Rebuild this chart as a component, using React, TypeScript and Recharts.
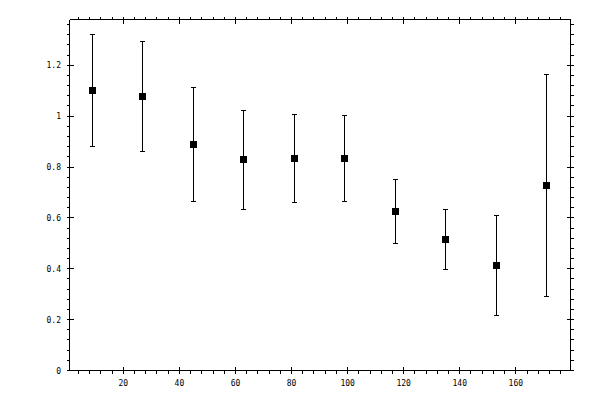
import React from 'react';
import { ScatterChart, Scatter, XAxis, YAxis, ErrorBar } from 'recharts';

const xValues = [9, 27, 45, 63, 81, 99, 117, 135, 153, 171];
const yValues = [1.101, 1.077, 0.888, 0.829, 0.833, 0.833, 0.625, 0.515, 0.412, 0.727];
const yErrors = [0.22, 0.215, 0.225, 0.195, 0.172, 0.17, 0.124, 0.118, 0.197, 0.438];

const xMajorTicks = [20, 40, 60, 80, 100, 120, 140, 160];
const yMajorTicks = [0, 0.2, 0.4, 0.6, 0.8, 1, 1.2];
const yTickLabels = ['0', '0.2', '0.4', '0.6', '0.8', '1', '1.2'];
const xMinorStep = 4;
const yMinorStep = 0.04;
const xDomain: [number, number] = [0.8, 179.5];
const yDomain: [number, number] = [0, 1.38];

const points = xValues.map((x, i) => ({ x, y: yValues[i], err: yErrors[i] }));

const xTicks: number[] = [];
for (let k = 1; k * xMinorStep < xDomain[1]; k++) xTicks.push(k * xMinorStep);
const yTicks: number[] = [];
for (let k = 0; k * yMinorStep < yDomain[1]; k++) yTicks.push(Math.round(k * yMinorStep * 1000) / 1000);

const isMajorX = (v: number) => xMajorTicks.includes(v);
const majorYIndex = (v: number) => yMajorTicks.findIndex((m) => Math.abs(m - v) < 1e-6);

const FONT = '"DejaVu Sans Mono", monospace';
const IN = 4;
const OUT = 3;

const Tick = (props: any) => {
  const { x, y, payload, side } = props;
  const v = payload.value;
  const crisp = { shapeRendering: 'crispEdges' as const, stroke: '#000', strokeWidth: 1 };
  if (side === 'bottom' || side === 'top') {
    const major = isMajorX(v);
    const dir = side === 'bottom' ? 1 : -1;
    const y1 = major ? y - dir * IN : y;
    const y2 = y + dir * OUT;
    return (
      <g>
        <line x1={x} x2={x} y1={y1} y2={y2} {...crisp} />
        {major && side === 'bottom' ? (
          <text x={x} y={y + 15} textAnchor="middle" fontFamily={FONT} fontSize={8} fill="#000">
            {String(v)}
          </text>
        ) : null}
      </g>
    );
  }
  const idx = majorYIndex(v);
  const major = idx >= 0;
  const dir = side === 'left' ? -1 : 1;
  const x1 = major ? x - dir * IN : x;
  const x2 = x + dir * OUT;
  return (
    <g>
      <line x1={x1} x2={x2} y1={y} y2={y} {...crisp} />
      {major && side === 'left' ? (
        <text x={x - 8.5} y={y + 3} textAnchor="end" fontFamily={FONT} fontSize={8} fill="#000">
          {yTickLabels[idx]}
        </text>
      ) : null}
    </g>
  );
};

const Square = (props: any) => {
  const { cx, cy } = props;
  if (cx == null || cy == null) return <g />;
  return <rect x={cx - 3.5} y={cy - 3.5} width={7} height={7} fill="#000" shapeRendering="crispEdges" />;
};

const axisLine = { stroke: '#000', strokeWidth: 1, shapeRendering: 'crispEdges' };

export default function App() {
  return (
    <div style={{ position: 'absolute', left: 0, top: 0, width: 600, height: 400, background: '#fff' }}>
      <ScatterChart width={600} height={400} margin={{ top: 0, right: 0, bottom: 0, left: 0 }}>
        <XAxis
          xAxisId="bottom"
          orientation="bottom"
          type="number"
          dataKey="x"
          domain={xDomain}
          allowDataOverflow
          ticks={xTicks}
          interval={0}
          height={29.5}
          tickSize={0}
          tickMargin={0}
          tickLine={false}
          axisLine={axisLine}
          tick={(p: any) => <Tick {...p} side="bottom" />}
        />
        <XAxis
          xAxisId="top"
          orientation="top"
          type="number"
          dataKey="x"
          domain={xDomain}
          allowDataOverflow
          ticks={xTicks}
          interval={0}
          height={19.5}
          tickSize={0}
          tickMargin={0}
          tickLine={false}
          axisLine={axisLine}
          tick={(p: any) => <Tick {...p} side="top" />}
        />
        <YAxis
          yAxisId="left"
          orientation="left"
          type="number"
          dataKey="y"
          domain={yDomain}
          allowDataOverflow
          ticks={yTicks}
          interval={0}
          width={69.5}
          tickSize={0}
          tickMargin={0}
          tickLine={false}
          axisLine={axisLine}
          tick={(p: any) => <Tick {...p} side="left" />}
        />
        <YAxis
          yAxisId="right"
          orientation="right"
          type="number"
          dataKey="y"
          domain={yDomain}
          allowDataOverflow
          ticks={yTicks}
          interval={0}
          width={29.5}
          tickSize={0}
          tickMargin={0}
          tickLine={false}
          axisLine={axisLine}
          tick={(p: any) => <Tick {...p} side="right" />}
        />
        <Scatter
          data={points}
          xAxisId="top"
          yAxisId="right"
          dataKey="y"
          shape={() => <g />}
          isAnimationActive={false}
          legendType="none"
        />
        <Scatter
          data={points}
          xAxisId="bottom"
          yAxisId="left"
          dataKey="y"
          shape={Square}
          isAnimationActive={false}
        >
          <ErrorBar
            dataKey="err"
            direction="y"
            width={2.5}
            stroke="#000"
            strokeWidth={1}
            shapeRendering="crispEdges"
            isAnimationActive={false}
          />
        </Scatter>
      </ScatterChart>
    </div>
  );
}
